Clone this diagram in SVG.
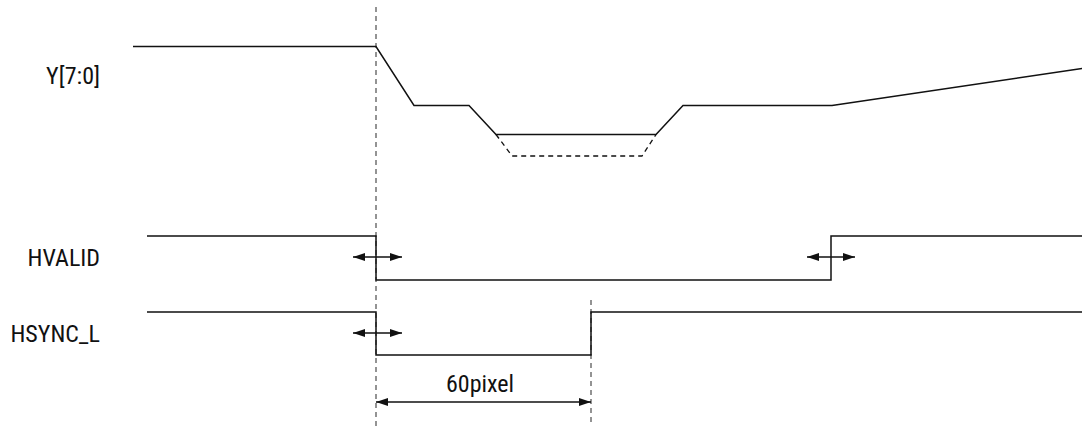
<svg xmlns="http://www.w3.org/2000/svg" width="1082" height="427" viewBox="0 0 1082 427">
<style>
.sig{fill:none;stroke:#111;stroke-width:1.5}
.dsig{fill:none;stroke:#111;stroke-width:1.3;stroke-dasharray:5 4}
.guide{fill:none;stroke:#666;stroke-width:1.4;stroke-dasharray:5 4}
.lbl{font-family:"Liberation Sans Narrow","Roboto Condensed","DejaVu Sans Condensed","Liberation Sans",sans-serif;font-size:24px;fill:#111}
.arr{fill:none;stroke:#111;stroke-width:1.3;marker-start:url(#ah);marker-end:url(#ah)}
</style>
<defs>
<marker id="ah" viewBox="0 0 12 8" refX="12" refY="4" markerWidth="12" markerHeight="8" markerUnits="userSpaceOnUse" orient="auto-start-reverse">
<path d="M0,0 L12,4 L0,8 Z" fill="#111"/>
</marker>
</defs>
<rect width="1082" height="427" fill="#fff"/>
<g id="guides">
<line class="guide" x1="376" y1="7" x2="376" y2="427"/>
<line class="guide" x1="591" y1="300" x2="591" y2="423"/>
</g>
<g id="labels">
<text id="lbl-y" class="lbl" x="100" y="84" text-anchor="end">Y[7:0]</text>
<text id="lbl-hvalid" class="lbl" x="100" y="266" text-anchor="end">HVALID</text>
<text id="lbl-hsync" class="lbl" x="100" y="342" text-anchor="end">HSYNC_L</text>
<text id="lbl-60" class="lbl" x="480" y="392" text-anchor="middle">60pixel</text>
</g>
<g id="signal-y">
<polyline class="sig" points="133,46.5 376,46.5 414,105.5 469,105.5 496,134.5 656,134.5 683,105.5 832,105.5 1082,68.5"/>
<polyline class="dsig" points="496,134.5 512,156 642,156 656,134.5"/>
</g>
<g id="signal-hvalid">
<polyline class="sig" points="147,236 376,236 376,280 831,280 831,236 1082,236"/>
</g>
<g id="signal-hsync">
<polyline class="sig" points="147,312 376,312 376,355 591,355 591,312 1082,312"/>
</g>
<g id="connectors">
<line class="arr" x1="353" y1="257" x2="402" y2="257"/>
<line class="arr" x1="807" y1="257" x2="855" y2="257"/>
<line class="arr" x1="353" y1="333" x2="402" y2="333"/>
<line class="arr" x1="376" y1="402" x2="591" y2="402"/>
</g>
</svg>
